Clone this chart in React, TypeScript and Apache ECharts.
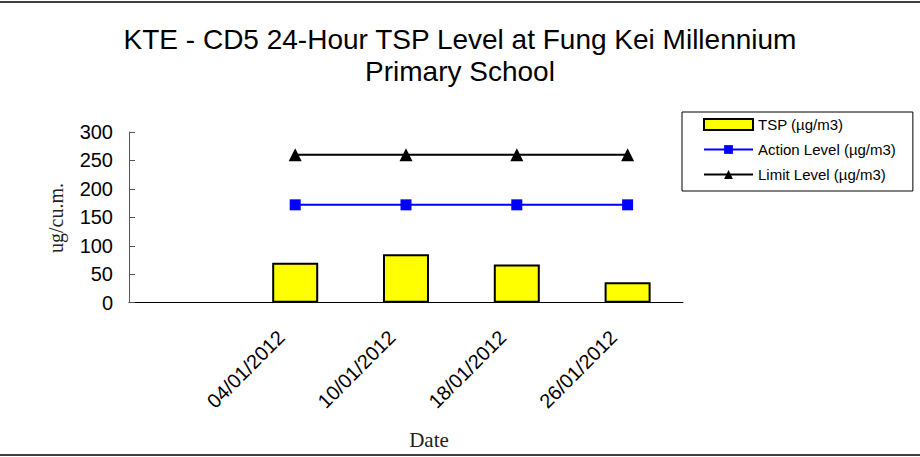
import React, { useEffect, useRef } from "react";
import * as echarts from "echarts";

const titleText = "KTE - CD5 24-Hour TSP Level at Fung Kei Millennium\nPrimary School";
const categories = ["", "04/01/2012", "10/01/2012", "18/01/2012", "26/01/2012"];
const tspValues: (number | null)[] = [null, 70, 85, 67, 36];
const actionValues: (number | null)[] = [null, 172, 172, 172, 172];
const limitValues: (number | null)[] = [null, 260, 260, 260, 260];
const yTicks = [0, 50, 100, 150, 200, 250, 300];
const seriesNames = ["TSP (µg/m3)", "Action Level (µg/m3)", "Limit Level (µg/m3)"];
const xName = "Date";
const yName = "ug/cu.m.";

export default function App() {
  const ref = useRef<HTMLDivElement>(null);
  useEffect(() => {
    if (!ref.current) return;
    const chart = echarts.init(ref.current, null, { renderer: "svg" });
    const sans = "'Liberation Sans', Arial, sans-serif";
    const serif = "'Liberation Serif', 'Times New Roman', serif";
    chart.setOption({
      animation: false,
      backgroundColor: "#ffffff",
      title: {
        text: titleText,
        left: "center",
        top: 18,
        textStyle: {
          fontFamily: sans,
          fontSize: 28,
          fontWeight: "normal",
          color: "#000",
          lineHeight: 32,
        },
      },
      legend: {
        orient: "vertical",
        left: 682,
        top: 112,
        padding: [5, 17, 9, 21],
        itemGap: 10,
        itemWidth: 49,
        itemHeight: 11,
        borderColor: "#000",
        borderWidth: 1,
        borderRadius: 0,
        textStyle: { fontFamily: sans, fontSize: 15, color: "#000" },
        data: [
          { name: seriesNames[0], icon: "rect" },
          { name: seriesNames[1] },
          { name: seriesNames[2] },
        ],
      },
      grid: { left: 129, right: 237, top: 132, bottom: 154.3, containLabel: false },
      xAxis: {
        type: "category",
        data: categories,
        boundaryGap: true,
        axisLine: { lineStyle: { color: "#000", width: 1 } },
        axisTick: { inside: true, length: 6, lineStyle: { color: "#555" } },
        axisLabel: {
          rotate: 45,
          margin: 17,
          padding: [0, 20, 0, 0],
          fontFamily: sans,
          fontSize: 20,
          color: "#000",
          interval: 0,
        },
        splitLine: { show: false },
      },
      yAxis: {
        type: "value",
        min: yTicks[0],
        max: yTicks[yTicks.length - 1],
        interval: 50,
        axisLine: { show: true, lineStyle: { color: "#555", width: 1 } },
        axisTick: { show: true, inside: true, length: 6, lineStyle: { color: "#555" } },
        axisLabel: { margin: 16, fontFamily: sans, fontSize: 20, color: "#000" },
        splitLine: { show: false },
      },
      graphic: [
        {
          type: "line",
          shape: { x1: 0, y1: 2, x2: 920, y2: 2 },
          style: { stroke: "#000", lineWidth: 1.5 },
        },
        {
          type: "line",
          shape: { x1: 0, y1: 455, x2: 920, y2: 455 },
          style: { stroke: "#000", lineWidth: 1.5 },
        },
        {
          type: "text",
          x: 429,
          y: 440,
          style: {
            text: xName,
            fontFamily: serif,
            fontSize: 21,
            fill: "#222",
            align: "center",
            verticalAlign: "middle",
          },
        },
        {
          type: "text",
          x: 56,
          y: 218,
          rotation: Math.PI / 2,
          style: {
            text: yName,
            fontFamily: serif,
            fontSize: 20,
            fill: "#222",
            align: "center",
            verticalAlign: "middle",
          },
        },
      ],
      series: [
        {
          name: seriesNames[0],
          type: "bar",
          data: tspValues,
          barWidth: 46,
          itemStyle: { color: "#FFFF00", borderColor: "#000", borderWidth: 2 },
        },
        {
          name: seriesNames[1],
          type: "line",
          data: actionValues,
          symbol: "rect",
          symbolSize: 11,
          lineStyle: { color: "#0000FF", width: 2 },
          itemStyle: { color: "#0000FF" },
        },
        {
          name: seriesNames[2],
          type: "line",
          data: limitValues,
          symbol: "triangle",
          symbolSize: 13,
          lineStyle: { color: "#000", width: 2 },
          itemStyle: { color: "#000" },
        },
      ],
    });
    return () => chart.dispose();
  }, []);
  return (
    <div
      ref={ref}
      style={{ position: "absolute", left: 0, top: 0, width: 920, height: 457 }}
    />
  );
}
